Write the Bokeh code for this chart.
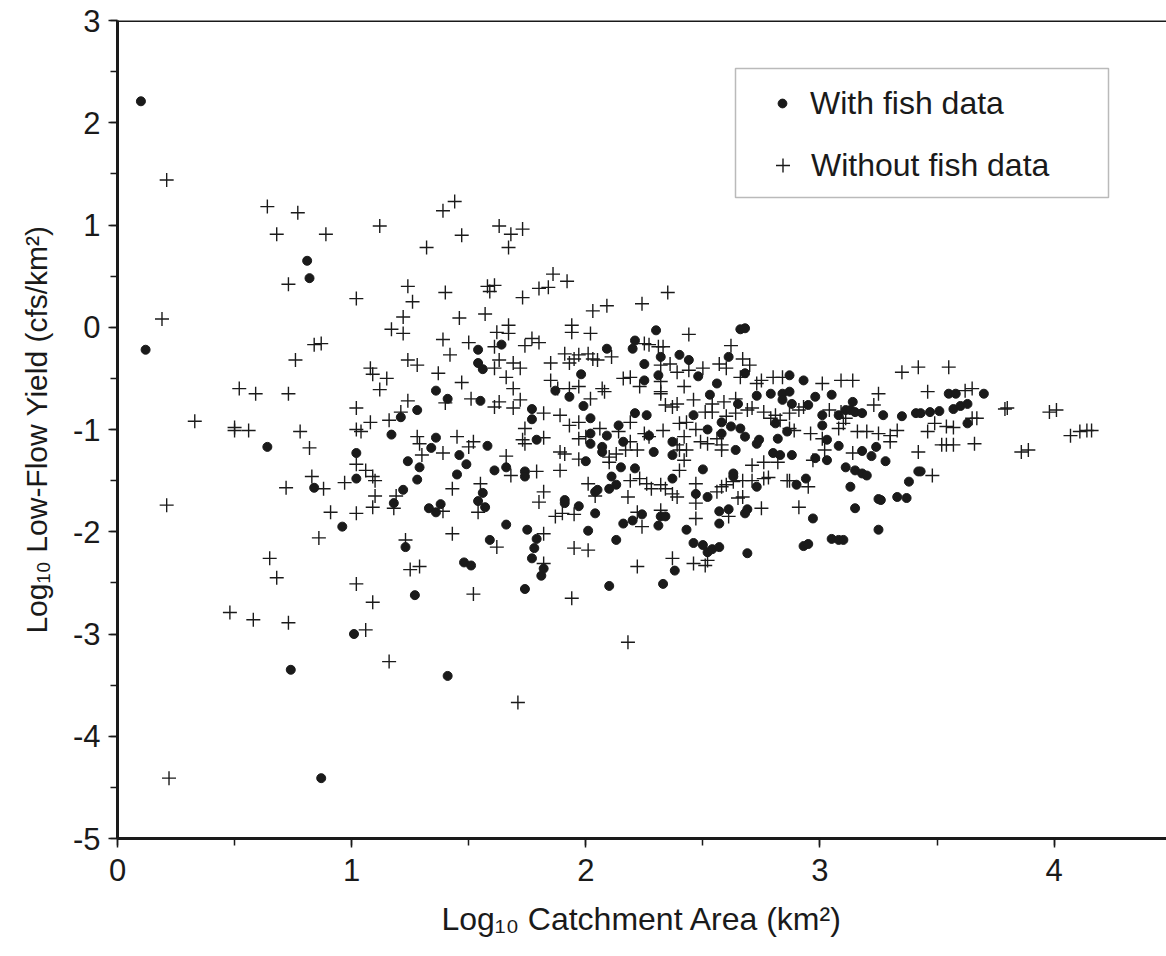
from bokeh.plotting import figure
from bokeh.models import (Range1d, SingleIntervalTicker, Legend, LegendItem, Span,
                          BoxAnnotation, Title)
from bokeh.embed import file_html
from bokeh.resources import INLINE

# ---- data: with fish data (filled dots) ----
fish_x = [0.10, 0.12, 0.81, 0.82, 0.64, 1.02, 1.02, 0.84, 0.96, 1.01, 0.74, 0.87,
          1.64, 1.54, 1.54, 1.56, 1.36, 1.41, 1.55, 1.28, 1.21, 1.17, 1.77, 1.77, 1.36, 1.34,
          1.58, 1.46, 1.49, 1.24, 1.29, 1.45, 1.61, 1.66, 1.74, 1.79, 1.87, 1.93, 1.98, 1.99,
          2.02, 2.02, 2.00, 1.28,
          1.74, 1.22, 1.18, 1.33, 1.38, 1.36, 1.56, 1.54, 1.57, 1.91, 1.91, 1.97, 2.04, 2.04,
          1.66, 1.75, 1.79, 1.78, 1.77, 1.82, 1.81, 2.01, 1.23, 1.59, 1.48, 1.51, 1.27, 1.74, 1.41,
          2.30, 2.66, 2.68, 2.21, 2.20, 2.09, 2.40, 2.44, 2.32, 2.25, 2.61, 2.31, 2.25, 2.48,
          2.56, 2.68, 2.87, 2.93, 2.53, 2.73, 2.79, 2.84, 2.87, 2.98, 3.05,
          2.21, 2.26, 2.14, 2.09, 2.16, 2.27, 2.02, 2.07, 2.07, 2.29, 2.37, 2.37, 2.46, 2.52,
          2.58, 2.58, 2.62, 2.66, 2.65, 2.68, 2.73, 2.74, 2.64, 2.84, 2.88, 2.95, 2.81, 2.82,
          2.86, 2.80, 2.83, 2.88, 3.01, 3.01, 3.03, 3.08, 3.08, 3.11, 2.98, 3.03, 3.11, 3.13,
          2.15, 2.21, 2.11, 2.13, 2.10, 2.37, 2.50, 2.63, 2.63, 2.73, 2.90, 2.94, 2.05, 2.47,
          2.52, 2.24, 2.32, 2.34, 2.16, 2.20, 2.31, 2.43, 2.57, 2.61, 2.57, 2.68, 2.69, 2.97,
          2.13, 2.46, 2.50, 2.52, 2.54, 2.57, 2.69, 2.93, 2.95, 3.05, 3.08, 3.10, 2.38, 2.10, 2.33,
          3.55, 3.58, 3.70, 3.14, 3.13, 3.15, 3.18, 3.27, 3.35, 3.41, 3.43, 3.47, 3.51, 3.57,
          3.60, 3.63, 3.63, 3.18, 3.22, 3.24, 3.28, 3.15, 3.18, 3.20, 3.38, 3.42, 3.43, 3.25,
          3.26, 3.33, 3.37, 3.15, 3.25]
fish_y = [2.21, -0.22, 0.65, 0.48, -1.17, -1.23, -1.48, -1.57, -1.95, -3.00, -3.35, -4.41,
          -0.17, -0.22, -0.35, -0.41, -0.62, -0.70, -0.72, -0.81, -0.88, -1.05, -0.80, -0.90, -1.08, -1.18,
          -1.16, -1.25, -1.34, -1.31, -1.37, -1.44, -1.40, -1.37, -1.41, -1.10, -0.62, -0.68, -0.46, -0.77,
          -0.89, -1.04, -1.31, -1.49,
          -1.46, -1.59, -1.72, -1.77, -1.73, -1.81, -1.62, -1.70, -1.76, -1.69, -1.72, -1.75, -1.61, -1.82,
          -1.93, -1.98, -2.07, -2.16, -2.26, -2.36, -2.43, -1.99, -2.15, -2.08, -2.30, -2.33, -2.62, -2.56, -3.41,
          -0.03, -0.02, -0.01, -0.13, -0.21, -0.21, -0.27, -0.32, -0.29, -0.36, -0.29, -0.47, -0.52, -0.48,
          -0.55, -0.45, -0.47, -0.52, -0.66, -0.67, -0.65, -0.65, -0.63, -0.68, -0.66,
          -0.84, -0.86, -0.96, -1.06, -1.12, -1.06, -1.14, -1.17, -1.22, -1.22, -1.12, -1.25, -0.86, -1.00,
          -0.93, -1.04, -0.97, -0.99, -0.75, -1.07, -1.14, -1.10, -1.20, -0.71, -0.75, -0.76, -0.94, -1.09,
          -1.02, -1.23, -1.25, -1.25, -0.86, -0.96, -1.10, -0.86, -1.16, -0.81, -1.28, -1.30, -1.37, -1.56,
          -1.37, -1.38, -1.46, -1.54, -1.58, -1.48, -1.39, -1.43, -1.46, -1.56, -1.54, -1.48, -1.59, -1.63,
          -1.66, -1.83, -1.85, -1.85, -1.92, -1.89, -1.94, -1.98, -1.80, -1.78, -1.92, -1.82, -1.78, -1.87,
          -2.08, -2.11, -2.13, -2.20, -2.17, -2.15, -2.21, -2.14, -2.12, -2.07, -2.08, -2.08, -2.38, -2.53, -2.51,
          -0.65, -0.65, -0.65, -0.73, -0.81, -0.83, -0.84, -0.86, -0.87, -0.84, -0.84, -0.83, -0.82, -0.80,
          -0.77, -0.75, -0.94, -1.21, -1.26, -1.17, -1.31, -1.40, -1.43, -1.45, -1.51, -1.41, -1.41, -1.68,
          -1.69, -1.66, -1.67, -1.77, -1.98]

# ---- data: without fish data (crosses) ----
nofish_x = [0.21, 0.64, 0.77, 0.68, 0.89, 0.73, 1.02, 0.19, 0.84, 0.87, 0.76, 0.52, 0.59, 0.73,
            0.33, 0.50, 0.50, 0.56, 0.78, 0.82, 1.02, 1.02, 1.02, 0.83, 0.72, 0.88, 0.97, 0.21,
            0.91, 1.02, 0.86, 0.65, 0.68, 1.02, 0.48, 0.58, 0.73, 0.22,
            1.44, 1.39, 1.12, 1.32, 1.47, 1.63, 1.68, 1.73, 1.67, 1.24, 1.26, 1.40, 1.58, 1.61,
            1.59, 1.73, 1.80, 1.84, 1.86, 1.92, 2.03,
            1.22, 1.17, 1.22, 1.46, 1.57, 1.62, 1.67, 1.67, 1.39, 1.50, 1.42, 1.61, 1.77, 1.80,
            1.74, 1.63, 1.69, 1.66, 1.72, 1.61, 1.24, 1.28, 1.08, 1.09, 1.15, 1.12, 1.37, 1.47,
            1.69, 1.51, 1.61, 1.63, 1.72, 1.69, 1.40, 1.24, 1.21, 1.08, 1.16, 1.04, 1.82, 1.89,
            1.93, 1.97, 1.74, 1.73, 1.74, 1.82, 1.45, 1.50, 1.52, 1.28, 1.29, 1.39, 1.30, 1.66,
            1.89, 1.91, 1.97, 2.00, 1.97, 1.89, 1.79, 1.68, 1.06, 1.09, 1.91, 1.95, 1.97, 2.01,
            2.03, 1.93, 1.85, 1.85, 1.88, 1.93, 2.02, 1.94, 1.94, 1.97, 2.02,
            1.10, 1.10, 1.09, 1.19, 1.18, 1.43, 1.55, 1.54, 1.39, 1.82, 1.80, 1.87, 1.90, 1.95,
            2.01, 1.82, 1.43, 1.23, 1.62, 1.25, 1.29, 1.95, 2.01, 1.82, 1.09, 1.06, 1.52, 1.94,
            1.16, 1.71,
            2.35, 2.24, 2.09, 2.44, 2.62, 2.25, 2.27, 2.31, 2.33, 2.05, 2.11, 2.32, 2.36, 2.39,
            2.44, 2.50, 2.57, 2.60, 2.70, 2.67, 2.19, 2.16, 2.23, 2.07, 2.32, 2.32, 2.42, 2.73,
            2.75, 2.80, 2.84, 3.01, 3.09, 2.66,
            2.08, 2.32, 2.34, 2.37, 2.39, 2.46, 2.54, 2.59, 2.64, 2.54, 2.51, 2.60, 2.64, 2.69,
            2.71, 2.76, 2.81, 2.87, 2.91, 3.04, 3.09, 3.11, 2.93, 2.19, 2.06, 2.14, 2.25, 2.27,
            2.33, 2.19, 2.22, 2.40, 2.43, 2.47, 2.42, 2.39, 2.43, 2.49, 2.52, 2.56, 2.58, 2.58,
            2.79, 2.83, 2.87, 2.89, 2.96, 3.01, 3.02, 3.08, 3.10, 2.10, 2.13, 2.17, 2.10, 2.19,
            2.23, 2.26, 2.28, 2.32, 2.34, 2.37, 2.39, 2.40, 2.40, 2.42, 2.47, 2.47, 2.47, 2.18,
            2.04, 2.22, 2.24, 2.32, 2.56, 2.58, 2.60, 2.63, 2.65, 2.67, 2.61, 2.67, 2.71, 2.76,
            2.78, 2.71, 2.76, 2.82, 2.86, 2.87, 2.95, 2.75, 2.91, 2.97, 2.22, 2.37, 2.46, 2.51,
            2.52, 2.18,
            3.35, 3.42, 3.55, 3.25, 3.46, 3.14, 3.62, 3.65, 3.23, 3.79, 3.80, 3.98, 4.01, 3.16,
            3.20, 3.25, 3.30, 3.33, 3.30, 3.14, 3.46, 3.49, 3.54, 3.57, 3.52, 3.54, 3.57, 3.66,
            3.65, 3.67, 3.42, 3.48, 3.86, 3.89, 4.07, 4.11, 4.14, 4.16]
nofish_y = [1.44, 1.18, 1.12, 0.91, 0.91, 0.42, 0.28, 0.08, -0.17, -0.16, -0.32, -0.60, -0.65, -0.65,
            -0.92, -1.01, -0.98, -1.01, -1.02, -1.18, -0.79, -1.00, -1.34, -1.46, -1.57, -1.58, -1.52, -1.74,
            -1.81, -1.82, -2.06, -2.26, -2.45, -2.51, -2.79, -2.86, -2.89, -4.41,
            1.23, 1.14, 0.99, 0.78, 0.90, 0.99, 0.91, 0.96, 0.78, 0.40, 0.25, 0.34, 0.40, 0.41,
            0.35, 0.29, 0.38, 0.39, 0.52, 0.45, 0.16,
            0.10, -0.02, -0.06, 0.09, 0.13, -0.05, 0.02, -0.06, -0.12, -0.15, -0.27, -0.19, -0.11, -0.15,
            -0.18, -0.32, -0.35, -0.49, -0.40, -0.40, -0.32, -0.37, -0.40, -0.46, -0.50, -0.61, -0.45, -0.54,
            -0.60, -0.70, -0.78, -0.73, -0.71, -0.79, -0.74, -0.72, -0.83, -0.93, -0.91, -1.02, -0.84, -0.86,
            -0.96, -0.93, -0.99, -1.10, -1.14, -1.08, -1.07, -1.17, -1.12, -1.07, -1.14, -1.23, -1.25, -1.26,
            -1.22, -1.24, -1.09, -1.07, -1.29, -1.40, -1.41, -1.45, -1.40, -1.46, -0.26, -0.31, -0.27, -0.26,
            -0.31, -0.35, -0.35, -0.52, -0.60, -0.60, -0.06, 0.02, -0.05, -0.58, -0.70,
            -1.50, -1.65, -1.76, -1.65, -1.77, -1.58, -1.53, -1.81, -1.80, -1.61, -1.71, -1.85, -1.82, -1.83,
            -1.53, -2.02, -2.02, -2.08, -2.15, -2.37, -2.34, -2.16, -2.18, -2.31, -2.69, -2.96, -2.61, -2.65,
            -3.27, -3.67,
            0.34, 0.23, 0.21, -0.07, -0.18, -0.16, -0.17, -0.19, -0.19, -0.32, -0.29, -0.37, -0.36, -0.44,
            -0.42, -0.40, -0.36, -0.40, -0.37, -0.31, -0.49, -0.50, -0.58, -0.60, -0.53, -0.63, -0.58, -0.55,
            -0.52, -0.49, -0.49, -0.55, -0.52, -0.49,
            -0.63, -0.65, -0.76, -0.78, -0.75, -0.71, -0.75, -0.73, -0.70, -0.83, -0.83, -0.87, -0.84, -0.81,
            -0.79, -0.83, -0.86, -0.84, -0.81, -0.81, -0.83, -0.89, -0.78, -0.93, -0.99, -1.02, -1.04, -1.07,
            -1.01, -1.12, -1.20, -0.94, -0.93, -1.00, -1.07, -1.15, -1.20, -1.12, -1.14, -1.09, -1.15, -1.20,
            -0.89, -0.91, -0.99, -1.01, -1.04, -1.09, -1.20, -0.99, -0.94, -1.27, -1.24, -1.20, -1.32, -1.50,
            -1.48, -1.53, -1.58, -1.54, -1.58, -1.63, -1.66, -1.40, -1.20, -1.30, -1.53, -1.72, -1.87, -1.66,
            -1.65, -1.81, -1.95, -1.79, -1.61, -1.56, -1.54, -1.51, -1.67, -1.66, -1.85, -1.50, -1.50, -1.48,
            -1.47, -1.35, -1.32, -1.32, -1.50, -1.50, -1.56, -1.77, -1.76, -1.30, -2.34, -2.26, -2.31, -2.33,
            -2.28, -3.08,
            -0.44, -0.39, -0.39, -0.65, -0.63, -0.52, -0.62, -0.60, -0.76, -0.80, -0.79, -0.83, -0.81, -1.02,
            -1.02, -1.04, -1.06, -1.01, -1.12, -1.23, -1.02, -0.94, -0.97, -0.98, -1.15, -1.15, -1.15, -1.14,
            -0.89, -0.89, -1.22, -1.45, -1.22, -1.20, -1.06, -1.02, -1.01, -1.01]

x_tick_values = [0, 1, 2, 3, 4]
y_tick_values = [-5, -4, -3, -2, -1, 0, 1, 2, 3]
legend_labels = ["With fish data", "Without fish data"]
x_label = "Log\u2081\u2080 Catchment Area (km\u00b2)"
y_label = "Log\u2081\u2080 Low-Flow Yield (cfs/km\u00b2)"

FONT = "Liberation Sans"
INK = "#1a1a1a"

p = figure(width=1166, height=956, output_backend="svg", toolbar_location=None,
           x_range=Range1d(0, 4.48), y_range=Range1d(-5, 3),
           min_border_left=117, min_border_right=0, min_border_top=20, min_border_bottom=118)
p.outline_line_color = None
p.grid.visible = False
p.background_fill_color = "white"
p.border_fill_color = "white"

r1 = p.scatter(fish_x, fish_y, marker="circle", size=9, fill_color=INK, line_color=INK)
r2 = p.scatter(nofish_x, nofish_y, marker="cross", size=14, line_color=INK, line_width=1.4)

for ax, ticks in ((p.xaxis[0], x_tick_values), (p.yaxis[0], y_tick_values)):
    ax.ticker = SingleIntervalTicker(interval=1, num_minor_ticks=2)
    ax.axis_line_width = 3
    ax.axis_line_color = INK
    ax.major_tick_line_width = 1.5
    ax.minor_tick_line_width = 1.5
    ax.major_tick_line_color = INK
    ax.minor_tick_line_color = INK
    ax.major_tick_out = 9
    ax.major_tick_in = 0
    ax.minor_tick_out = 7
    ax.minor_tick_in = 0
    ax.major_label_text_font = FONT
    ax.major_label_text_font_size = "31px"
    ax.major_label_text_color = INK
    ax.major_label_overrides = {t: str(t) for t in ticks}

p.xaxis.major_label_standoff = 11
p.yaxis.major_label_standoff = 8

# x title as the axis label (centred like the reference)
p.xaxis.axis_label = x_label
p.xaxis.axis_label_text_font = FONT
p.xaxis.axis_label_text_font_size = "32px"
p.xaxis.axis_label_text_font_style = "normal"
p.xaxis.axis_label_text_color = INK
p.xaxis.axis_label_standoff = 17

# y title as a side title (can be shifted along the axis)
p.add_layout(Title(text=y_label, align="center", offset=28, text_font=FONT,
                   text_font_size="30px", text_font_style="normal", text_color=INK,
                   standoff=33), "left")

p.add_layout(Span(location=3, dimension="width", line_color=INK, line_width=3))

# ---- legend: framed box with two rows (separate glyph sizes per row) ----
p.add_layout(BoxAnnotation(left=735 - 117, right=1108 - 117, bottom=838 - 197, top=838 - 68,
                           left_units="screen", right_units="screen", bottom_units="screen",
                           top_units="screen", fill_color="white", fill_alpha=1.0,
                           line_color=INK, line_width=1.5, level="overlay"))

leg1 = Legend(items=[LegendItem(label=legend_labels[0], renderers=[r1])],
              location=(782 - 11 - 117, 838 - 123), label_text_font=FONT,
              label_text_font_size="32px", label_text_color=INK, border_line_color=None,
              background_fill_alpha=0.0, padding=0, margin=0, spacing=0,
              glyph_width=22, glyph_height=40, label_height=40, label_standoff=17)
leg2 = Legend(items=[LegendItem(label=legend_labels[1], renderers=[r2])],
              location=(782 - 17 - 117, 838 - 185), label_text_font=FONT,
              label_text_font_size="32px", label_text_color=INK, border_line_color=None,
              background_fill_alpha=0.0, padding=0, margin=0, spacing=0,
              glyph_width=35, glyph_height=40, label_height=40, label_standoff=11)
p.add_layout(leg1)
p.add_layout(leg2)

open("out.html", "w").write(file_html(p, INLINE))
